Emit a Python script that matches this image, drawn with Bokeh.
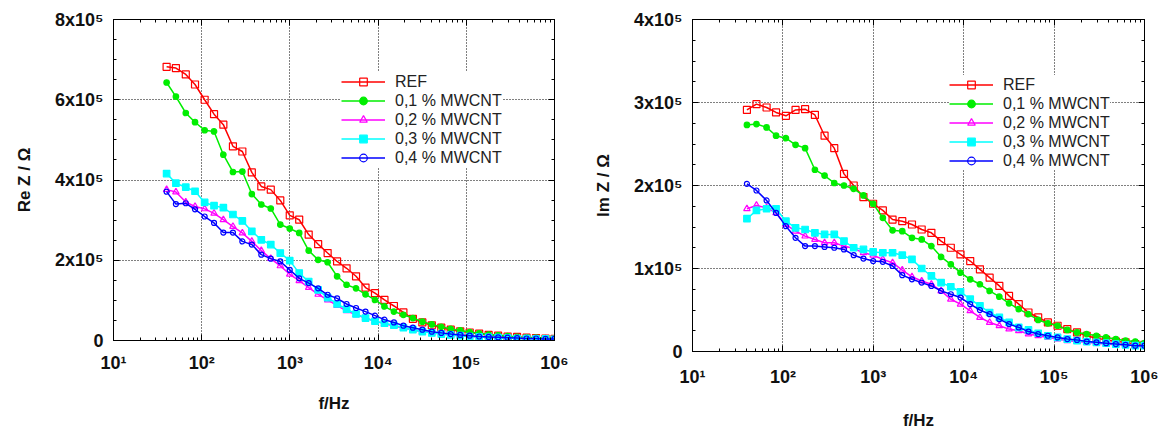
from bokeh.plotting import figure
from bokeh.layouts import row
from bokeh.models import (Range1d, FixedTicker, SingleIntervalTicker, LogAxis, LinearAxis,
                          Legend, LegendItem, CustomJSTickFormatter)
from bokeh.embed import file_html
from bokeh.resources import INLINE

# ---------------- data ----------------
freq = [40, 51, 66, 84, 108, 138, 176, 226, 289, 370, 474, 607, 778, 996, 1275, 1633,
        2091, 2678, 3429, 4391, 5623, 7200, 9220, 11806, 15118, 19359, 24790, 31745,
        40650, 52054, 66657, 85356, 109300, 139963, 179227, 229505, 293890, 376336,
        481910, 617100, 790220, 1000000]

series_names = ["REF", "0,1 % MWCNT", "0,2 % MWCNT", "0,3 % MWCNT", "0,4 % MWCNT"]

# Re Z (units of 1e5 Ohm)
re_ref = [6.82, 6.79, 6.63, 6.38, 6.00, 5.64, 5.38, 4.84, 4.71, 4.19, 3.84, 3.76, 3.49, 3.12,
          3.01, 2.64, 2.40, 2.18, 1.97, 1.80, 1.60, 1.32, 1.18, 1.01, 0.86, 0.70, 0.54, 0.45,
          0.38, 0.32, 0.27, 0.23, 0.20, 0.17, 0.14, 0.12, 0.10, 0.09, 0.07, 0.06, 0.05, 0.04]
re_01 = [6.43, 6.08, 5.67, 5.44, 5.24, 5.21, 4.63, 4.20, 4.21, 3.65, 3.39, 3.29, 2.89, 2.79,
         2.68, 2.24, 2.01, 1.95, 1.60, 1.39, 1.30, 1.15, 1.01, 0.85, 0.72, 0.64, 0.56, 0.47,
         0.40, 0.34, 0.29, 0.25, 0.21, 0.18, 0.15, 0.13, 0.11, 0.09, 0.08, 0.07, 0.06, 0.05]
re_02 = [3.76, 3.70, 3.45, 3.34, 3.28, 3.17, 3.01, 2.84, 2.68, 2.47, 2.24, 2.04, 1.86, 1.65,
         1.49, 1.32, 1.15, 1.01, 0.87, 0.74, 0.64, 0.56, 0.48, 0.42, 0.36, 0.31, 0.26, 0.22,
         0.19, 0.16, 0.14, 0.12, 0.10, 0.09, 0.08, 0.07, 0.06, 0.05, 0.05, 0.04, 0.04, 0.03]
re_03 = [4.16, 3.92, 3.82, 3.72, 3.44, 3.36, 3.31, 3.14, 2.98, 2.72, 2.51, 2.39, 2.18, 1.99,
         1.68, 1.47, 1.26, 1.07, 0.91, 0.78, 0.66, 0.56, 0.48, 0.43, 0.38, 0.32, 0.27, 0.22,
         0.19, 0.16, 0.14, 0.12, 0.10, 0.09, 0.08, 0.07, 0.06, 0.05, 0.05, 0.04, 0.04, 0.03]
re_04 = [3.71, 3.40, 3.42, 3.27, 3.09, 2.93, 2.69, 2.69, 2.47, 2.39, 2.14, 2.04, 1.97, 1.76,
         1.55, 1.43, 1.30, 1.14, 1.05, 0.91, 0.81, 0.72, 0.62, 0.52, 0.45, 0.37, 0.32, 0.27,
         0.22, 0.19, 0.16, 0.14, 0.12, 0.10, 0.09, 0.08, 0.07, 0.06, 0.05, 0.05, 0.04, 0.04]

# Im Z (units of 1e5 Ohm)
im_ref = [2.91, 2.98, 2.94, 2.88, 2.84, 2.91, 2.92, 2.85, 2.60, 2.45, 2.14, 2.00, 1.86, 1.78,
          1.70, 1.59, 1.57, 1.53, 1.47, 1.43, 1.33, 1.25, 1.17, 1.09, 0.99, 0.89, 0.79, 0.67,
          0.57, 0.47, 0.41, 0.35, 0.31, 0.27, 0.23, 0.19, 0.16, 0.14, 0.12, 0.11, 0.09, 0.08]
im_01 = [2.73, 2.74, 2.70, 2.60, 2.57, 2.49, 2.45, 2.19, 2.12, 2.03, 2.00, 1.96, 1.88, 1.78,
         1.61, 1.46, 1.45, 1.37, 1.35, 1.27, 1.14, 1.05, 0.95, 0.87, 0.81, 0.73, 0.66, 0.58,
         0.51, 0.45, 0.38, 0.34, 0.31, 0.26, 0.23, 0.21, 0.19, 0.17, 0.15, 0.13, 0.12, 0.10]
im_02 = [1.72, 1.76, 1.73, 1.67, 1.53, 1.45, 1.39, 1.35, 1.31, 1.31, 1.27, 1.24, 1.19, 1.16,
         1.11, 1.07, 0.98, 0.90, 0.85, 0.81, 0.73, 0.63, 0.57, 0.49, 0.41, 0.35, 0.31, 0.27,
         0.25, 0.21, 0.19, 0.17, 0.15, 0.13, 0.12, 0.11, 0.10, 0.09, 0.08, 0.08, 0.07, 0.07]
im_03 = [1.60, 1.70, 1.72, 1.72, 1.57, 1.49, 1.47, 1.43, 1.41, 1.41, 1.33, 1.25, 1.23, 1.20,
         1.19, 1.19, 1.16, 1.11, 1.00, 0.91, 0.83, 0.78, 0.72, 0.63, 0.55, 0.47, 0.41, 0.35,
         0.29, 0.26, 0.22, 0.19, 0.17, 0.15, 0.13, 0.12, 0.11, 0.10, 0.09, 0.08, 0.07, 0.07]
im_04 = [2.02, 1.94, 1.82, 1.67, 1.51, 1.37, 1.27, 1.27, 1.26, 1.25, 1.23, 1.16, 1.12, 1.09,
         1.08, 1.03, 0.92, 0.87, 0.83, 0.79, 0.73, 0.69, 0.65, 0.57, 0.50, 0.45, 0.39, 0.33,
         0.29, 0.24, 0.21, 0.19, 0.17, 0.15, 0.14, 0.12, 0.11, 0.10, 0.09, 0.08, 0.07, 0.07]

x_ticks = [10, 100, 1000, 10000, 100000, 1000000]
x_tick_labels = ["10¹", "10²", "10³", "10⁴", "10⁵", "10⁶"]
re_ticks = [0, 200000, 400000, 600000, 800000]
re_tick_labels = ["0", "2x10⁵", "4x10⁵", "6x10⁵", "8x10⁵"]
im_ticks = [0, 100000, 200000, 300000, 400000]
im_tick_labels = ["0", "1x10⁵", "2x10⁵", "3x10⁵", "4x10⁵"]

# ---------------- style ----------------
FONT = "Liberation Sans"
colors = ["#FF0000", "#00EE00", "#FF00FF", "#00FFFF", "#0000FF"]
markers = ["square", "circle", "triangle", "square", "circle"]
filled = [False, True, False, True, False]
msizes = [7, 5.5, 6.5, 6.5, 5]


def make_fig(series, ticks, tick_labels, ylab, frame_w, frame_h, borders, legend_loc,
             xlabel_standoff, xtick_standoff):
    bl, br, bt, bb = borders
    p = figure(x_axis_type="log", x_range=Range1d(10, 1000000),
               y_range=Range1d(ticks[0], ticks[-1]),
               frame_width=frame_w, frame_height=frame_h,
               min_border_left=bl, min_border_right=br, min_border_top=bt, min_border_bottom=bb,
               output_backend="svg", toolbar_location=None,
               background_fill_color="white", border_fill_color="white")
    p.outline_line_color = "black"
    p.outline_line_width = 1

    minor_x = [m * d for d in x_ticks[:-1] for m in range(2, 10)]
    xt = FixedTicker(ticks=x_ticks, minor_ticks=minor_x)
    yt = SingleIntervalTicker(interval=ticks[1] - ticks[0], num_minor_ticks=4)

    xa = p.xaxis[0]
    xa.ticker = xt
    xa.major_label_overrides = {t: l for t, l in zip(x_ticks, x_tick_labels)}
    ya = p.yaxis[0]
    ya.ticker = yt
    ya.major_label_overrides = {t: l for t, l in zip(ticks, tick_labels)}

    for ax in (xa, ya):
        ax.axis_line_color = "black"
        ax.major_tick_in = 6
        ax.major_tick_out = 0
        ax.minor_tick_in = 3
        ax.minor_tick_out = 0
        ax.major_tick_line_color = "black"
        ax.minor_tick_line_color = "black"
        ax.major_label_text_font = FONT
        ax.major_label_text_font_style = "bold"
        ax.major_label_text_font_size = "18px"
        ax.major_label_text_color = "#111111"
        ax.axis_label_text_font = FONT
        ax.axis_label_text_font_style = "bold"
        ax.axis_label_text_font_size = "17px"
        ax.axis_label_text_color = "#111111"
    xa.axis_label = "f/Hz"
    xa.major_label_standoff = xtick_standoff
    xa.axis_label_standoff = xlabel_standoff
    ya.axis_label = ylab
    ya.major_label_standoff = 10
    ya.axis_label_standoff = 18

    empty = CustomJSTickFormatter(code="return ''")
    top = LogAxis(ticker=xt, formatter=empty, major_tick_in=6, major_tick_out=0,
                  minor_tick_in=3, minor_tick_out=0, major_label_standoff=0,
                  axis_line_color="black")
    right = LinearAxis(ticker=yt, formatter=empty, major_tick_in=6, major_tick_out=0,
                       minor_tick_in=3, minor_tick_out=0, major_label_standoff=0,
                       axis_line_color="black")
    p.add_layout(top, "above")
    p.add_layout(right, "right")

    for g in (p.xgrid[0], p.ygrid[0]):
        g.grid_line_color = "black"
        g.grid_line_dash = "1 2"
        g.grid_line_width = 1
    p.xgrid[0].ticker = xt
    p.ygrid[0].ticker = yt

    items = []
    for name, ys, c, m, f, s in zip(series_names, series, colors, markers, filled, msizes):
        yv = [v * 100000 for v in ys]
        lr = p.line(freq, yv, line_color=c, line_width=1.5)
        sr = p.scatter(freq, yv, marker=m, size=s, line_color=c, line_width=1.2,
                       fill_color=c if f else None)
        items.append(LegendItem(label=name, renderers=[lr, sr]))

    leg = Legend(items=items, location=legend_loc)
    leg.border_line_color = None
    leg.background_fill_color = "white"
    leg.background_fill_alpha = 1.0
    leg.label_text_font = FONT
    leg.label_text_font_size = "16px"
    leg.label_text_color = "#222222"
    leg.glyph_width = 44
    leg.glyph_height = 19
    leg.label_height = 19
    leg.spacing = 0
    leg.padding = 10
    leg.margin = 0
    leg.label_standoff = 10
    p.add_layout(leg)
    return p


p1 = make_fig([re_ref, re_01, re_02, re_03, re_04], re_ticks, re_tick_labels, "Re Z / Ω",
              441, 321, (113, 20, 18, 85), (228, 173), 18, 12)
p2 = make_fig([im_ref, im_01, im_02, im_03, im_04], im_ticks, im_tick_labels, "Im Z / Ω",
              452, 332, (118, 16, 19, 79), (257, 181), 21, 15)

layout = row(p1, p2)
open("out.html", "w").write(file_html(layout, INLINE))
